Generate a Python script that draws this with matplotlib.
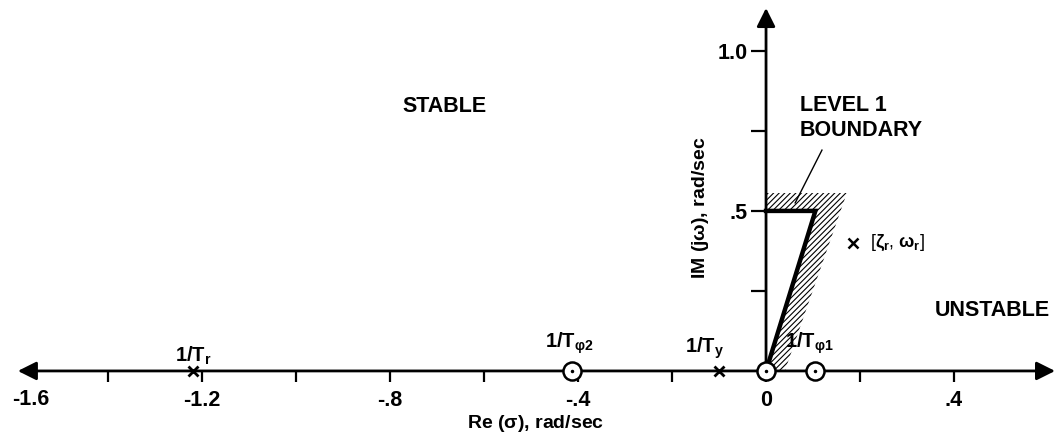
import matplotlib
matplotlib.use('Agg')
import matplotlib.pyplot as plt
from matplotlib.patches import Polygon

plt.rcParams['font.family'] = ['Liberation Sans', 'DejaVu Sans']
plt.rcParams['font.weight'] = 'bold'
plt.rcParams['mathtext.fontset'] = 'custom'
plt.rcParams['mathtext.rm'] = 'Liberation Sans:bold'
plt.rcParams['mathtext.it'] = 'Liberation Sans:bold'
plt.rcParams['mathtext.bf'] = 'Liberation Sans:bold'
plt.rcParams['hatch.linewidth'] = 0.8

# roots on the real axis
pole_names = [r'1/T$_\mathrm{r}$', r'1/T$_\mathrm{y}$']
pole_re = [-1.219, -0.10]
zero_names = [r'1/T$_{\varphi 2}$', '', r'1/T$_{\varphi 1}$']
zero_re = [-0.413, 0.0, 0.105]
# dutch roll root
dr_re, dr_im = 0.185, 0.40

# level 1 boundary (sigma, omega)
bound_re = [0.0, 0.105, 0.0]
bound_im = [0.0, 0.5, 0.5]
hatch_re = [0.0, 0.0, 0.172, 0.04, 0.0, 0.105]
hatch_im = [0.5, 0.556, 0.556, 0.0, 0.0, 0.5]

xticks = [-1.4, -1.2, -1.0, -0.8, -0.6, -0.4, -0.2, 0.0, 0.2, 0.4]
xticklabels = ['', '-1.2', '', '-.8', '', '-.4', '', '0', '', '.4']
yticks = [0.25, 0.5, 0.75, 1.0]
yticklabels = ['', '.5', '', '1.0']

fig = plt.figure(figsize=(10.56, 4.34), dpi=100)
ax = fig.add_axes([0, 0, 1, 1])
ax.set_xlim(-1.630, 0.617)
ax.set_ylim(-0.197, 1.159)

# axes through the origin, ticks only
for s in ['top', 'right']:
    ax.spines[s].set_visible(False)
ax.spines['bottom'].set_position(('data', 0))
ax.spines['left'].set_position(('data', 0))
ax.spines['bottom'].set_linewidth(0)
ax.spines['left'].set_linewidth(0)
ax.set_xticks(xticks)
ax.set_xticklabels(xticklabels, fontweight='bold')
ax.set_yticks(yticks)
ax.set_yticklabels(yticklabels, fontweight='bold')
ax.tick_params(axis='x', direction='out', length=8, width=1.6, pad=6, labelsize=15.5)
ax.tick_params(axis='y', direction='out', length=11, width=1.6, pad=2, labelsize=15.5)
ax.text(-1.564, -0.09, '-1.6', ha='center', va='center', fontsize=15.5)

arrow = dict(arrowstyle='<|-|>', lw=2.0, color='k', mutation_scale=28, shrinkA=0, shrinkB=0)
ax.annotate('', xy=(0.615, 0), xytext=(-1.592, 0), arrowprops=arrow)
ax.annotate('', xy=(0, 1.134), xytext=(0, 0),
            arrowprops=dict(arrowstyle='-|>', lw=2.0, color='k', mutation_scale=28,
                            shrinkA=0, shrinkB=0))

# boundary with hatching on the unstable side
ax.add_patch(Polygon(list(zip(hatch_re, hatch_im)), closed=True, facecolor='none',
                     edgecolor='k', hatch='//////', linewidth=0))
ax.plot(bound_re, bound_im, color='k', lw=3.2, solid_joinstyle='miter', zorder=3)
ax.plot([0.062, 0.119], [0.525, 0.69], color='k', lw=1.0)

# poles and zeros
ax.plot(pole_re, [0] * len(pole_re), 'kx', ms=7, mew=2, zorder=4)
ax.plot(zero_re, [0] * len(zero_re), 'o', ms=13, mfc='white', mec='k', mew=1.8, zorder=4)
ax.plot(zero_re, [0] * len(zero_re), 'k.', ms=3, zorder=5)
ax.plot([dr_re], [dr_im], 'kx', ms=7, mew=1.8)

ax.text(-1.257, 0.028, pole_names[0], fontsize=14.5, va='baseline')
ax.text(-0.172, 0.056, pole_names[1], fontsize=14.5, va='baseline')
ax.text(-0.47, 0.072, zero_names[0], fontsize=14.5, va='baseline')
ax.text(0.04, 0.072, zero_names[2], fontsize=14.5, va='baseline')
ax.text(0.221, 0.40, r'[$\zeta_\mathrm{r}$, $\omega_\mathrm{r}$]', fontsize=13,
        fontweight='normal', va='center')

ax.text(-0.685, 0.826, 'STABLE', fontsize=15.5, ha='center', va='center')
ax.text(0.072, 0.79, 'LEVEL 1\nBOUNDARY', fontsize=15.5, ha='left', va='center',
        linespacing=1.25)
ax.text(0.604, 0.19, 'UNSTABLE', fontsize=15.5, ha='right', va='center')

ax.text(-0.49, -0.163, r'Re ($\sigma$), rad/sec', fontsize=14, ha='center', va='center')
ax.text(-0.14, 0.51, r'IM (j$\omega$), rad/sec', fontsize=14, ha='center', va='center',
        rotation=90)

fig.savefig('out.png', dpi=100)
